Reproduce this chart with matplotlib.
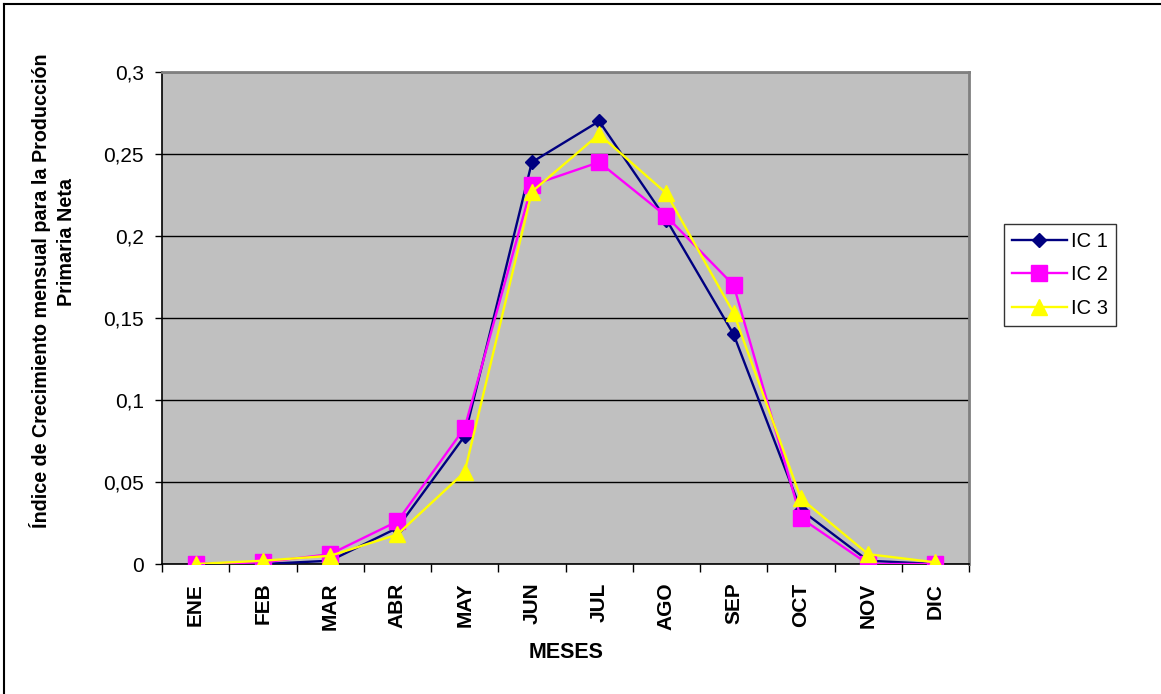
import numpy as np
import matplotlib
matplotlib.use("Agg")
import matplotlib.pyplot as plt
from matplotlib.lines import Line2D
from matplotlib.ticker import FuncFormatter

plt.rcParams['font.family'] = ['Liberation Sans', 'DejaVu Sans']

meses = ["ENE", "FEB", "MAR", "ABR", "MAY", "JUN",
         "JUL", "AGO", "SEP", "OCT", "NOV", "DIC"]
ic1 = [0.0, 0.0, 0.002, 0.022, 0.078, 0.245, 0.270, 0.210, 0.140, 0.033, 0.002, 0.0]
ic2 = [0.0, 0.001, 0.006, 0.026, 0.083, 0.231, 0.245, 0.212, 0.170, 0.028, 0.0, 0.0]
ic3 = [0.0, 0.002, 0.005, 0.018, 0.056, 0.227, 0.262, 0.226, 0.153, 0.040, 0.006, 0.001]
yticks = [0, 0.05, 0.1, 0.15, 0.2, 0.25, 0.3]

W, H = 1161, 694
fig = plt.figure(figsize=(W / 100, H / 100), dpi=100)
fig.patch.set_facecolor("white")

# area del grafico en pixeles
x0, x1, y0, y1 = 162, 969, 72, 564
ax = fig.add_axes([x0 / W, 1 - y1 / H, (x1 - x0) / W, (y1 - y0) / H])
ax.set_facecolor("#C0C0C0")

x = np.arange(len(meses))
ax.plot(x, ic1, color="#000080", lw=1.7, marker="D", ms=7, label="IC 1", zorder=3)
ax.plot(x, ic2, color="#FF00FF", lw=1.7, marker="s", ms=11, label="IC 2", zorder=4)
ax.plot(x, ic3, color="#FFFF00", lw=1.7, marker="^", ms=11.5, label="IC 3", zorder=5)

ax.set_xlim(-0.5, len(meses) - 0.5)
ax.set_ylim(0, 0.3)
ax.set_yticks(yticks)
ax.yaxis.set_major_formatter(FuncFormatter(lambda v, p: ("%g" % v).replace(".", ",")))
ax.grid(axis="y", color="black", lw=1.0, zorder=1)
ax.set_axisbelow(True)

# marcas entre categorias y etiquetas en el centro
ax.set_xticks(np.arange(-0.5, len(meses)), labels=[""] * (len(meses) + 1))
ax.set_xticks(x, labels=meses, minor=True)
ax.tick_params(axis="x", which="major", length=6, width=1, direction="out")
ax.tick_params(axis="x", which="minor", length=0, pad=13.5, labelsize=15, labelrotation=90)
for t in ax.get_xticklabels(minor=True):
    t.set_fontweight("bold")
ax.tick_params(axis="y", length=5, width=1, pad=8, labelsize=15)

for s in ["left", "bottom"]:
    ax.spines[s].set_color("black")
    ax.spines[s].set_linewidth(1.2)
for s in ["top", "right"]:
    ax.spines[s].set_color("#808080")
    ax.spines[s].set_linewidth(2)

fig.text(566 / W, 1 - 653 / H, "MESES", ha="center", va="center",
         fontsize=15.5, fontweight="bold")
fig.text(40 / W, 1 - 291 / H, "Índice de Crecimiento mensual para la Producción",
         rotation=90, ha="center", va="center", fontsize=14.2, fontweight="bold")
fig.text(67 / W, 1 - 242 / H, "Primaria Neta",
         rotation=90, ha="center", va="center", fontsize=14.2, fontweight="bold")

leg = fig.legend(loc="center", bbox_to_anchor=(1060 / W, 1 - 275 / H),
                 fontsize=14.5, frameon=True, fancybox=False, handlelength=2.7,
                 handletextpad=0.2, labelspacing=0.7, borderpad=0.4)
leg.get_frame().set_edgecolor("black")
leg.get_frame().set_linewidth(1)

# borde exterior
fig.add_artist(Line2D([4 / W, 1], [1 - 3.5 / H, 1 - 3.5 / H], color="black", lw=1.5))
fig.add_artist(Line2D([4 / W, 4 / W], [0, 1 - 3.5 / H], color="black", lw=1.5))

fig.savefig("out.png", dpi=100)
